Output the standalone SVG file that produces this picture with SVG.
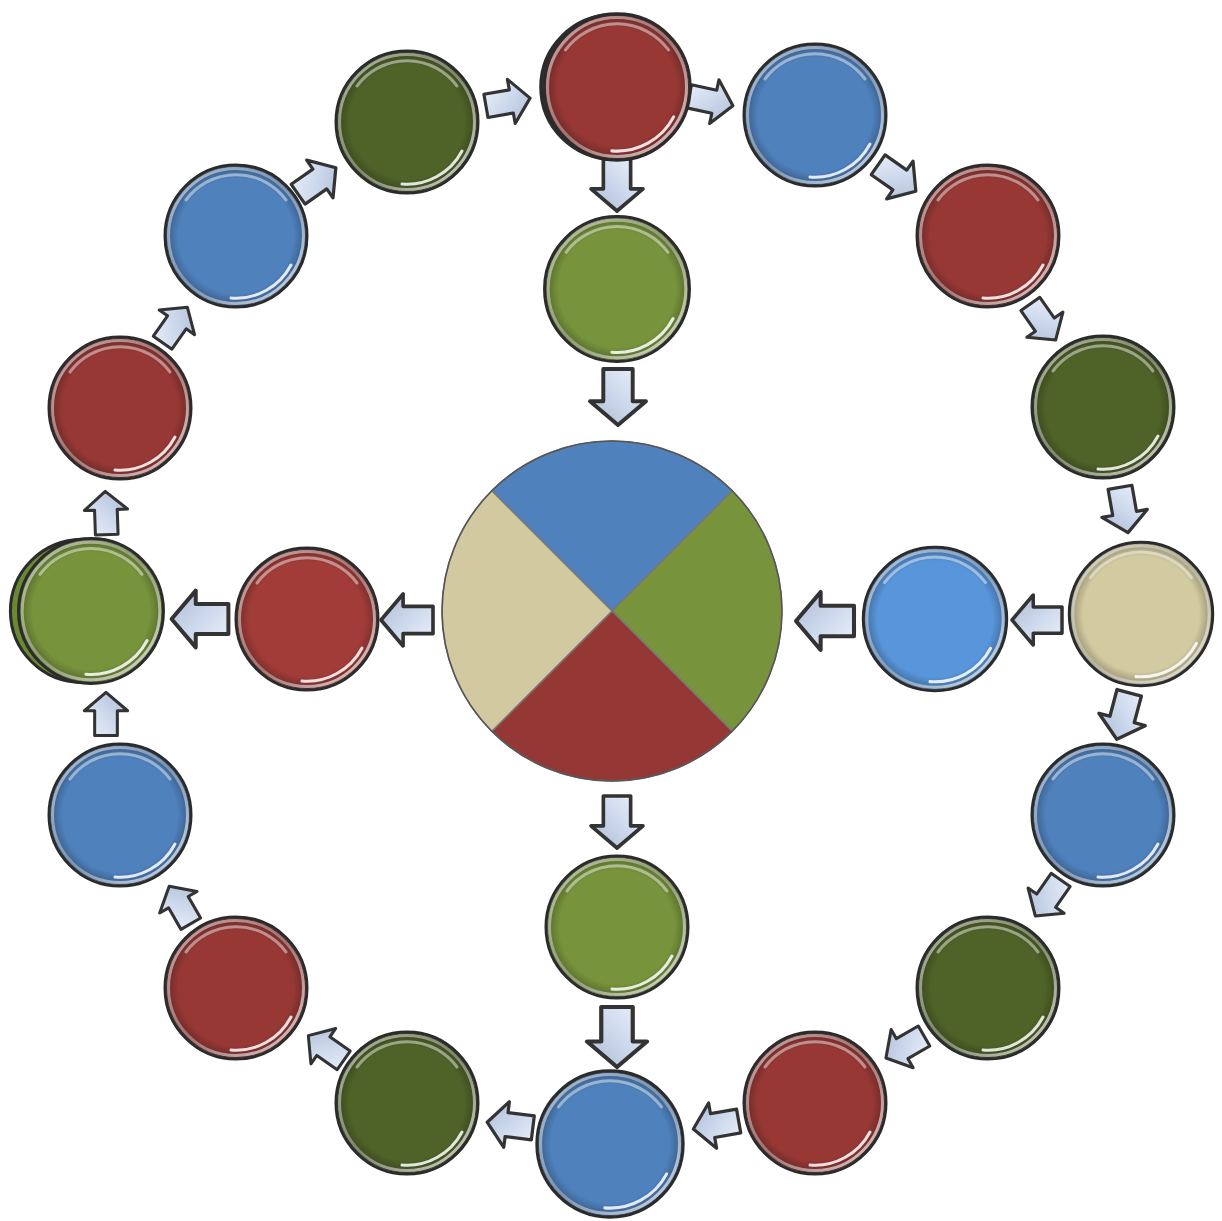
<svg xmlns="http://www.w3.org/2000/svg" xmlns:xlink="http://www.w3.org/1999/xlink" width="1222" height="1221" viewBox="0 0 1222 1221">
<style>
.face-red{fill:#973835}
.face-blue{fill:#4f81bd}
.face-dkgreen{fill:#4f6228}
.face-green{fill:#77933c}
.face-tan{fill:#d2caa0}
.face-lblue{fill:#5895da}
.face-lred{fill:#a13c38}
.arrow{fill:url(#arrowGrad);stroke:#333;stroke-width:2.8;stroke-linejoin:round}
.pie{stroke:#777;stroke-width:1.5}
</style>
<defs>
<radialGradient id="shade" cx="0.5" cy="0.5" r="0.5">
<stop offset="0.82" stop-color="#000" stop-opacity="0"/>
<stop offset="1" stop-color="#000" stop-opacity="0.28"/>
</radialGradient>
<linearGradient id="rim" x1="0" y1="0" x2="1" y2="1">
<stop offset="0" stop-color="#ffffff" stop-opacity="0.6"/>
<stop offset="0.5" stop-color="#cfcfcf" stop-opacity="0.45"/>
<stop offset="1" stop-color="#ffffff" stop-opacity="0.8"/>
</linearGradient>
<linearGradient id="arrowGrad" x1="0" y1="0" x2="1" y2="1">
<stop offset="0" stop-color="#edf2fa"/>
<stop offset="0.5" stop-color="#ccd8ec"/>
<stop offset="1" stop-color="#aebbd2"/>
</linearGradient>
<g id="bezel">
<circle r="70" fill="url(#shade)"/>
<circle r="67.5" fill="none" stroke="url(#rim)" stroke-width="3"/>
<circle r="71" fill="none" stroke="#2b2b2b" stroke-width="3"/>
<path d="M-50,-36 A62,62 0 0 1 50,-36" fill="none" stroke="#fff" stroke-opacity="0.45" stroke-width="3" stroke-linecap="round"/>
<path d="M55,29 A62,62 0 0 1 -5,62" fill="none" stroke="#fff" stroke-opacity="0.85" stroke-width="3" stroke-linecap="round"/>
</g>
<path id="arr" d="M-20,-10.5 L3,-10.5 L3,-20 L20,0 L3,20 L3,10.5 L-20,10.5 Z"/>
</defs>
<rect width="1222" height="1221" fill="#fff"/>

<g id="connectors">
<use href="#arr" class="arrow" transform="translate(508,102) rotate(-10) scale(1.12)"/>
<use href="#arr" class="arrow" transform="translate(711,101) rotate(12) scale(1.12)"/>
<use href="#arr" class="arrow" transform="translate(617,185) rotate(90) scale(1.3)"/>
<use href="#arr" class="arrow" transform="translate(618,397) rotate(90) scale(1.4)"/>
<use href="#arr" class="arrow" transform="translate(897,178) rotate(35) scale(1.15)"/>
<use href="#arr" class="arrow" transform="translate(1043,322) rotate(55) scale(1.1)"/>
<use href="#arr" class="arrow" transform="translate(1124,510) rotate(80) scale(1.15)"/>
<use href="#arr" class="arrow" transform="translate(1123,716) rotate(105) scale(1.2)"/>
<use href="#arr" class="arrow" transform="translate(1037,620) rotate(180) scale(1.25)"/>
<use href="#arr" class="arrow" transform="translate(825,621) rotate(180) scale(1.45)"/>
<use href="#arr" class="arrow" transform="translate(1048,898) rotate(125) scale(1.1)"/>
<use href="#arr" class="arrow" transform="translate(905,1047) rotate(150) scale(1.1)"/>
<use href="#arr" class="arrow" transform="translate(716,1125) rotate(170) scale(1.15)"/>
<use href="#arr" class="arrow" transform="translate(617,822) rotate(90) scale(1.3)"/>
<use href="#arr" class="arrow" transform="translate(617,1037) rotate(90) scale(1.5)"/>
<use href="#arr" class="arrow" transform="translate(510,1125) rotate(187) scale(1.15)"/>
<use href="#arr" class="arrow" transform="translate(326,1048) rotate(215) scale(1.08)"/>
<use href="#arr" class="arrow" transform="translate(180,905) rotate(240) scale(1.08)"/>
<use href="#arr" class="arrow" transform="translate(106,714) rotate(-90) scale(1.08)"/>
<use href="#arr" class="arrow" transform="translate(106,513) rotate(-92) scale(1.08)"/>
<use href="#arr" class="arrow" transform="translate(175,325) rotate(-55) scale(1.08)"/>
<use href="#arr" class="arrow" transform="translate(317,181) rotate(-35) scale(1.15)"/>
<use href="#arr" class="arrow" transform="translate(407,620) rotate(180) scale(1.3)"/>
<use href="#arr" class="arrow" transform="translate(200,619) rotate(180) scale(1.42)"/>
</g>

<g id="pie">
<path class="pie" fill="#4f81bd" d="M612,611 L491.8,490.8 A170,170 0 0 1 732.2,490.8 Z"/>
<path class="pie" fill="#77933c" d="M612,611 L732.2,490.8 A170,170 0 0 1 732.2,731.2 Z"/>
<path class="pie" fill="#953735" d="M612,611 L732.2,731.2 A170,170 0 0 1 491.8,731.2 Z"/>
<path class="pie" fill="#d2c9a0" d="M612,611 L491.8,731.2 A170,170 0 0 1 491.8,490.8 Z"/>
<circle cx="612" cy="611" r="170" fill="none" stroke="#555" stroke-width="1.5"/>
</g>

<g id="n-top" transform="translate(617,87) scale(1.03)"><circle cx="-4" r="70" fill="#5a3a36" stroke="#2b2b2b" stroke-width="3"/><circle r="70" class="face-red"/><use href="#bezel"/></g>
<g id="n-r1" transform="translate(815,115)"><circle r="70" class="face-blue"/><use href="#bezel"/></g>
<g id="n-r2" transform="translate(988,236)"><circle r="70" class="face-red"/><use href="#bezel"/></g>
<g id="n-r3" transform="translate(1103,407)"><circle r="70" class="face-dkgreen"/><use href="#bezel"/></g>
<g id="n-r4" transform="translate(1141,614) scale(1.01)"><circle r="70" class="face-tan"/><use href="#bezel"/></g>
<g id="n-r5" transform="translate(1103,815)"><circle r="70" class="face-blue"/><use href="#bezel"/></g>
<g id="n-r6" transform="translate(988,988)"><circle r="70" class="face-dkgreen"/><use href="#bezel"/></g>
<g id="n-r7" transform="translate(815,1103)"><circle r="70" class="face-red"/><use href="#bezel"/></g>
<g id="n-bottom" transform="translate(610,1144) scale(1.03)"><circle r="70" class="face-blue"/><use href="#bezel"/></g>
<g id="n-l7" transform="translate(407,1103)"><circle r="70" class="face-dkgreen"/><use href="#bezel"/></g>
<g id="n-l6" transform="translate(236,988)"><circle r="70" class="face-red"/><use href="#bezel"/></g>
<g id="n-l5" transform="translate(120,815)"><circle r="70" class="face-blue"/><use href="#bezel"/></g>
<g id="n-left" transform="translate(91,611) scale(1.02)"><circle cx="-9" r="70" fill="#6a8a32" stroke="#2b2b2b" stroke-width="3"/><circle r="70" class="face-green"/><use href="#bezel"/></g>
<g id="n-l3" transform="translate(120,408)"><circle r="70" class="face-red"/><use href="#bezel"/></g>
<g id="n-l2" transform="translate(236,236)"><circle r="70" class="face-blue"/><use href="#bezel"/></g>
<g id="n-l1" transform="translate(407,122)"><circle r="70" class="face-dkgreen"/><use href="#bezel"/></g>

<g id="n-in-top" transform="translate(617,289) scale(1.02)"><circle r="70" class="face-green"/><use href="#bezel"/></g>
<g id="n-in-bottom" transform="translate(617,927)"><circle r="70" class="face-green"/><use href="#bezel"/></g>
<g id="n-in-left" transform="translate(307,619)"><circle r="70" class="face-lred"/><use href="#bezel"/></g>
<g id="n-in-right" transform="translate(935,619) scale(1.01)"><circle r="70" class="face-lblue"/><use href="#bezel"/></g>
</svg>
